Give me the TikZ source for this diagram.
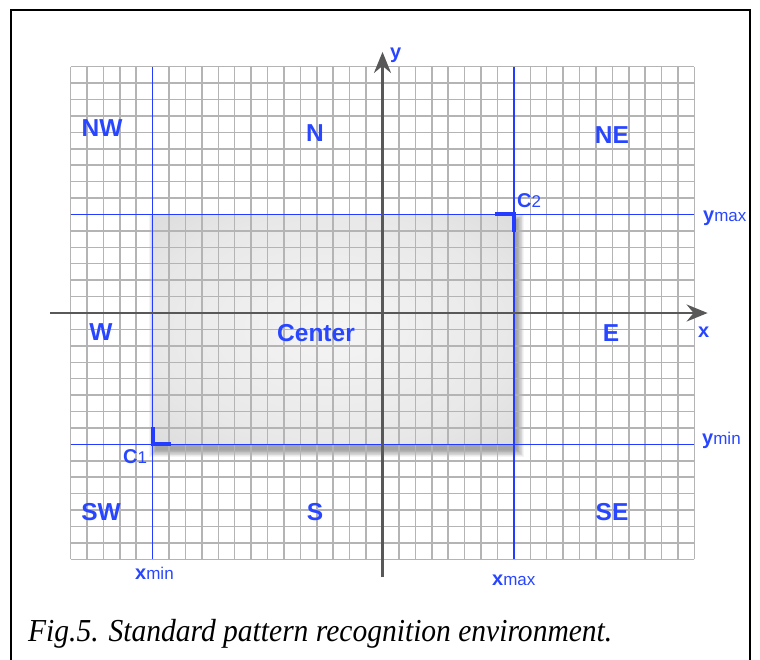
\documentclass[tikz,border=0pt]{standalone}
\usepackage{fontspec}
\setmainfont{Liberation Serif}
\newfontfamily\lblfont{Liberation Sans}
\usetikzlibrary{arrows.meta}
\definecolor{gridgray}{RGB}{180,180,180}
\definecolor{axisgray}{RGB}{88,88,88}
\definecolor{lineblue}{RGB}{35,60,255}
\definecolor{textblue}{RGB}{40,70,255}
\pgfdeclareradialshading{boxshade}{\pgfpoint{0bp}{0bp}}{%
  color(0bp)=(white!96!black); color(25bp)=(white!91!black);
  color(50bp)=(white!80!black); color(71bp)=(white!72!black)}
\begin{document}
\begin{tikzpicture}[x=1pt,y=-1pt,
  region/.style={font=\lblfont\bfseries\fontsize{24.5}{24.5}\selectfont, text=textblue, inner sep=0pt},
  axlabel/.style={font=\lblfont\bfseries\fontsize{20}{20}\selectfont, text=textblue, inner sep=0pt, anchor=base west},
  gridline/.style={gridgray, line width=1.5pt},
  bluerule/.style={lineblue, line width=1.4pt},
  cornermark/.style={lineblue, line width=4pt, line join=miter},
  axisline/.style={axisgray, line width=2.6pt, -{Stealth[length=21pt,width=17pt,inset=7pt]}}]
\useasboundingbox (0,0) rectangle (760,659);

% outer frame, open at the bottom
\draw[line width=2pt] (11,665) -- (11,10) -- (750,10) -- (750,665);

% plane: one unit is one grid cell, origin at the axes crossing
\begin{scope}[shift={(382.5pt,-313pt)}, x=16.42pt, y=16.42pt]
  % soft drop shadow of the bounding box
  \foreach \k in {0,...,9}
    \fill[black, opacity=0.045]
      (-14+0.2-\k*0.045, -8-0.35-\k*0.045) rectangle (8+0.2+\k*0.045, 6-0.35+\k*0.045);
  % bounding box of the pattern
  \shade[shading=boxshade] (-14,-8) rectangle (8,6);
  % cell grid
  \foreach \i in {-19,...,19}
    \draw[gridline] (\i,-15) -- (\i,15);
  \foreach \j in {-15,...,15}
    \draw[gridline] (-19,\j) -- (19,\j);
  % limits xmin, xmax, ymin, ymax
  \draw[bluerule] (-14,-15) -- (-14,15);
  \draw[bluerule] (8,-15) -- (8,15);
  \draw[bluerule] (-19,6) -- (19,6);
  \draw[bluerule] (-19,-8) -- (19,-8);
  % axes
  \coordinate (xs) at (-20.25,0);
  \coordinate (xe) at (19.8,0);
  \coordinate (ys) at (0,-16.1);
  \coordinate (ye) at (0,15.9);
  \draw[axisline] (xs) -- (xe);
  \draw[axisline] (ys) -- (ye);
  % corner marks C1 and C2
  \coordinate (c1) at (-14,-8);
  \coordinate (c2) at (8,6);
  \draw[cornermark] ([yshift=17pt]c1) -- (c1) -- ([xshift=18pt]c1);
  \draw[cornermark] ([xshift=-19pt]c2) -- (c2) -- ([yshift=-18pt]c2);
\end{scope}

% region names
\node[region] (nw) at (102,128) {NW};
\node[region] (n) at (315,133) {N};
\node[region] (ne) at (612,135) {NE};
\node[region] (w) at (101,332) {W};
\node[region] (ctr) at (316,333) {Center};
\node[region] (e) at (611,333) {E};
\node[region] (sw) at (101,512) {SW};
\node[region] (s) at (315,512) {S};
\node[region] (se) at (612,512) {SE};

% axis names
\node[axlabel] (ylab) at (390,58) {y};
\node[axlabel] (xlab) at (698,337) {x};

% corner names
\node[axlabel, font=\lblfont\bfseries\fontsize{20}{20}\selectfont] (c2lab) at (517,207) {C{\mdseries\fontsize{17}{17}\selectfont 2}};
\node[axlabel, font=\lblfont\bfseries\fontsize{20}{20}\selectfont] (c1lab) at (123,463) {C{\mdseries\fontsize{17}{17}\selectfont 1}};

% limit names
\node[axlabel] (xminlab) at (135,579) {x{\mdseries\fontsize{17}{17}\selectfont min}};
\node[axlabel] (xmaxlab) at (492,585) {x{\mdseries\fontsize{17}{17}\selectfont max}};
\node[axlabel] (yminlab) at (702,444) {y{\mdseries\fontsize{17}{17}\selectfont min}};
\begin{scope}
  \clip (690,190) rectangle (747,240);
  \node[axlabel] (ymaxlab) at (703,221) {y{\mdseries\fontsize{17}{17}\selectfont max}};
\end{scope}

% caption
\node[anchor=base west, inner sep=0pt] (cap) at (28,641)
  {\resizebox{584pt}{\height}{\itshape\fontsize{32}{32}\selectfont Fig.5. Standard pattern recognition environment.}};
\end{tikzpicture}
\end{document}
